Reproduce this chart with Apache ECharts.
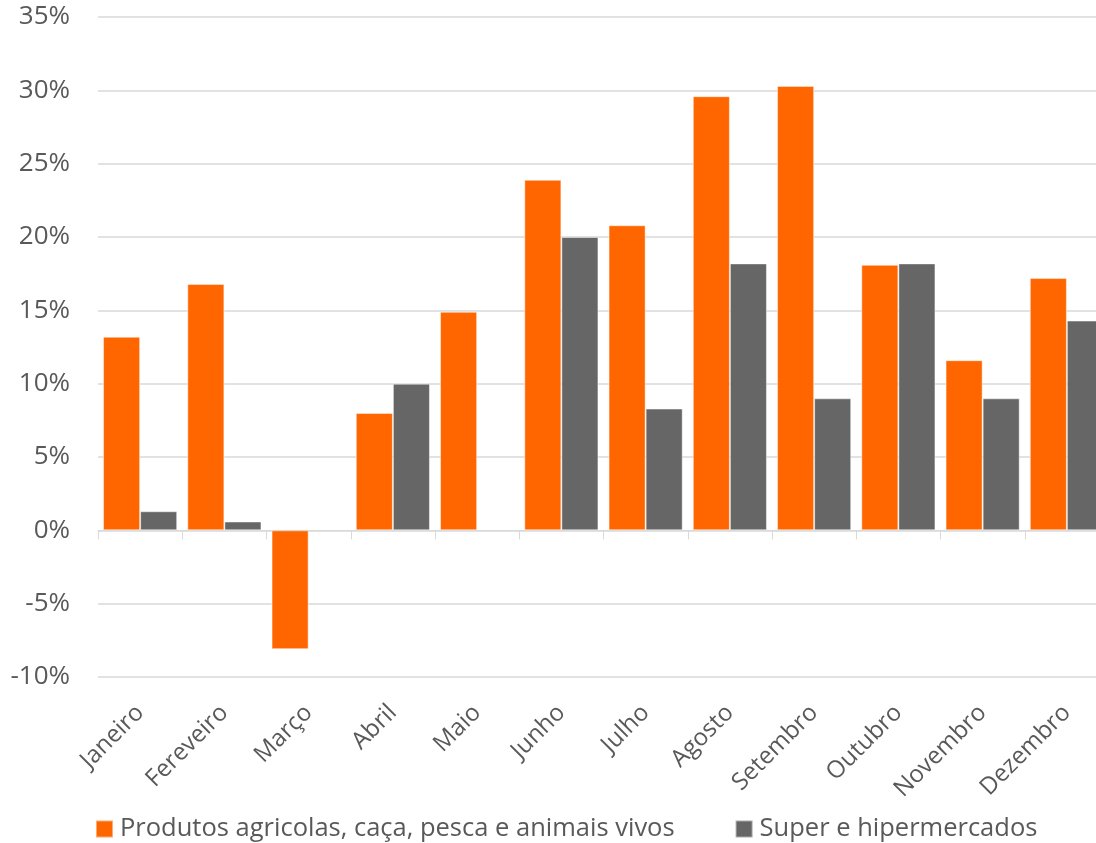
<!DOCTYPE html>
<html>
<head>
<meta charset="utf-8">
<script src="https://cdn.jsdelivr.net/npm/echarts@6/dist/echarts.min.js"></script>
<style>
html,body{margin:0;padding:0;background:#fff;overflow:hidden;}
#chart{width:1109px;height:843px;}
</style>
</head>
<body>
<div id="chart"></div>
<script>
const categories = ['Janeiro','Fereveiro','Março','Abril','Maio','Junho','Julho','Agosto','Setembro','Outubro','Novembro','Dezembro'];
const seriesNames = ['Produtos agricolas, caça, pesca e animais vivos','Super e hipermercados'];
const produtos = [13.2, 16.8, -8.1, 8.0, 14.9, 23.9, 20.8, 29.6, 30.3, 18.1, 11.6, 17.2];
const supermercados = [1.3, 0.6, null, 10.0, null, 20.0, 8.3, 18.2, 9.0, 18.2, 9.0, 14.3];
const yMin = -10, yMax = 35, yStep = 5;

const FONT = 'Open Sans';
const TXT = '#595959';
const GRID = '#d9d9d9';

const chart = echarts.init(document.getElementById('chart'), null, {renderer: 'canvas'});
chart.setOption({
  animation: false,
  backgroundColor: '#fff',
  textStyle: {fontFamily: FONT},
  grid: {left: 98, right: 0, top: 17, bottom: 166, containLabel: false},
  legend: {
    top: 816,
    left: 95,
    padding: 0,
    itemWidth: 17,
    itemHeight: 17,
    itemGap: 60,
    icon: 'rect',
    textStyle: {fontFamily: FONT, fontSize: 25.5, color: TXT, padding: [0,0,0,2]},
    data: seriesNames
  },
  xAxis: [
    {
      type: 'category',
      data: categories,
      axisLine: {onZero: true, lineStyle: {color: GRID, width: 1}},
      axisTick: {show: true, length: 9, lineStyle: {color: GRID}},
      axisLabel: {show: false},
      splitLine: {show: false}
    },
    {
      type: 'category',
      data: categories,
      position: 'bottom',
      axisLine: {show: false, onZero: false},
      axisTick: {show: false},
      axisLabel: {show: true, rotate: 45, margin: 32, fontFamily: FONT, fontSize: 24, color: TXT}
    }
  ],
  yAxis: {
    type: 'value',
    min: yMin,
    max: yMax,
    interval: yStep,
    axisLine: {show: false},
    axisTick: {show: false},
    axisLabel: {
      margin: 28,
      fontFamily: FONT,
      fontSize: 26,
      color: TXT,
      formatter: v => v + '%'
    },
    splitLine: {lineStyle: {color: GRID, width: 1.5}}
  },
  series: [
    {
      name: seriesNames[0],
      type: 'bar',
      xAxisIndex: 0,
      data: produtos,
      barGap: '0%',
      barCategoryGap: '12%',
      itemStyle: {color: '#FF6600', borderColor: 'rgba(255,255,255,0.45)', borderWidth: 1}
    },
    {
      name: seriesNames[1],
      type: 'bar',
      xAxisIndex: 0,
      data: supermercados,
      barGap: '0%',
      barCategoryGap: '12%',
      itemStyle: {color: '#666666', borderColor: 'rgba(255,255,255,0.45)', borderWidth: 1}
    }
  ]
});
</script>
</body>
</html>
